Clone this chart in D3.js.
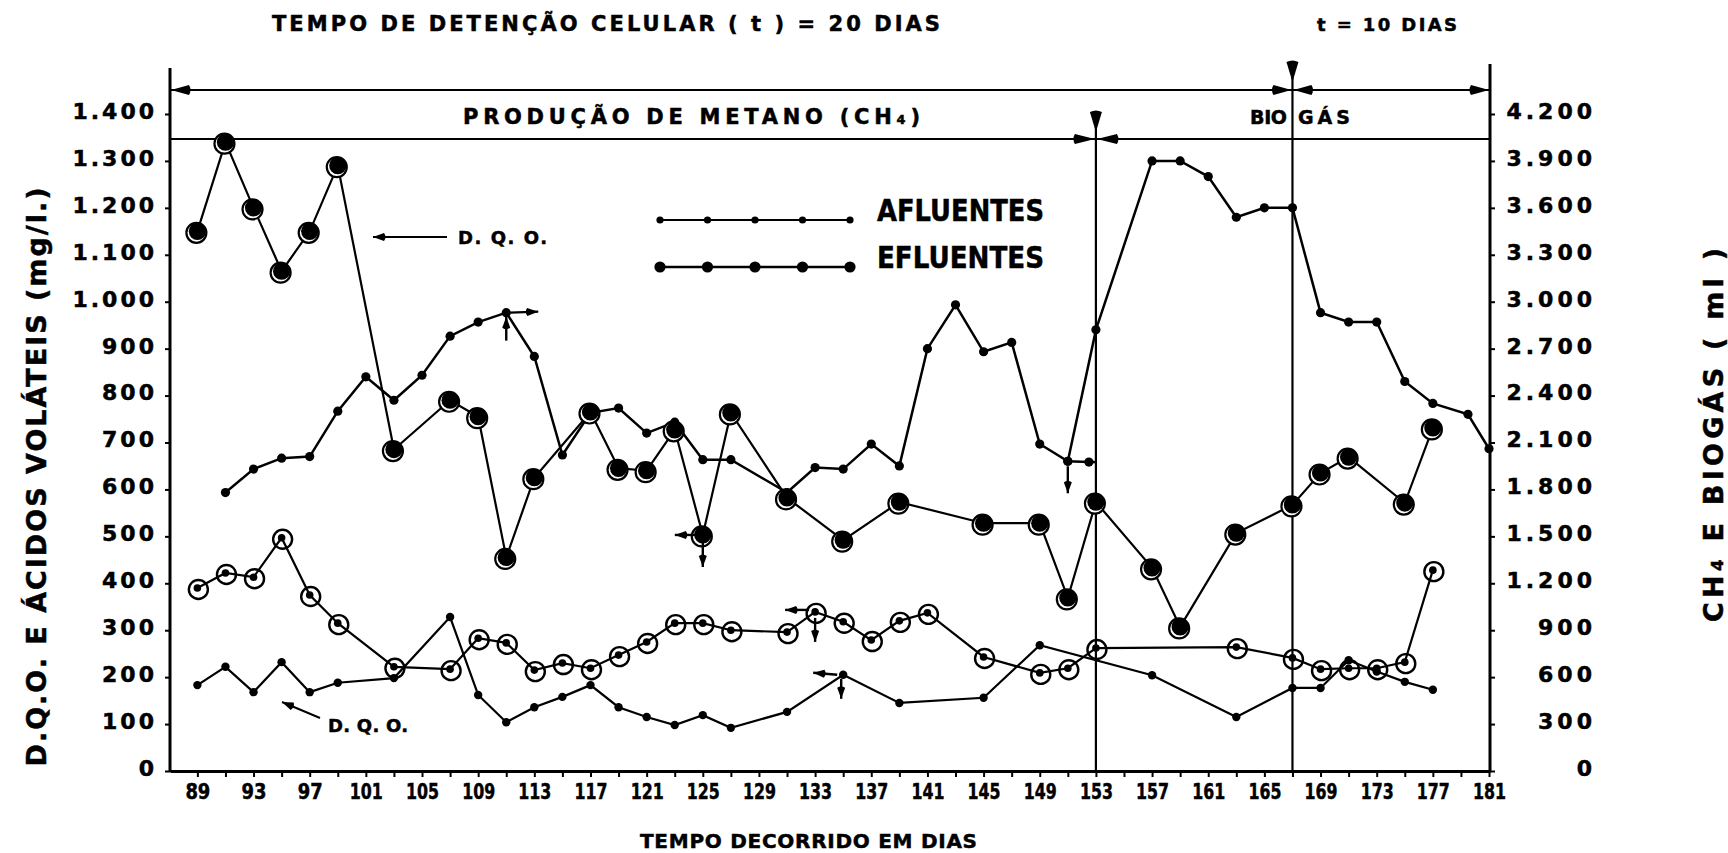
<!DOCTYPE html>
<html>
<head>
<meta charset="utf-8">
<script src="https://cdn.jsdelivr.net/npm/d3@7"></script>
<style>
  html, body { margin: 0; padding: 0; background: #fff; }
  svg { display: block; }
  text { font-family: "DejaVu Sans", sans-serif; font-weight: bold; fill: #000; stroke: #000; stroke-width: 0.5px; }
</style>
</head>
<body>
<svg id="chart" width="1728" height="853"></svg>
<script>
// ---- Data -------------------------------------------------------------
// D.Q.O., upper trace (ringed solid markers), mg/l
const dqoDays   = [89, 91, 93, 95, 97, 99, 103, 107, 109, 111, 113, 117, 119, 121, 123, 125, 127, 131, 135, 139, 145, 149, 151, 153, 157, 159, 163, 167, 169, 171, 175, 177];
const dqoValues = [1150, 1340, 1200, 1065, 1150, 1290, 685, 790, 755, 455, 625, 765, 645, 640, 727, 503, 763, 582, 492, 573, 528, 528, 369, 573, 433, 307, 507, 567, 635, 669, 571, 731];

// Ácidos voláteis (open ring markers), mg/l
const acidDays   = [89, 91, 93, 95, 97, 99, 103, 107, 109, 111, 113, 115, 117, 119, 121, 123, 125, 127, 131, 133, 135, 137, 139, 141, 145, 149, 151, 153, 163, 167, 169, 171, 173, 175, 177];
const acidValues = [390, 422, 413, 497, 375, 315, 222, 217, 283, 273, 215, 230, 219, 247, 275, 315, 315, 300, 296, 339, 318, 279, 320, 337, 243, 209, 219, 262, 264, 241, 217, 219, 219, 232, 428];

// D.Q.O., lower trace (small dots), mg/l
const dqoLowDays   = [89, 91, 93, 95, 97, 99, 103, 107, 109, 111, 113, 115, 117, 119, 121, 123, 125, 127, 131, 135, 139, 145, 149, 157, 163, 167, 169, 171, 173, 175, 177];
const dqoLowValues = [183, 222, 168, 232, 168, 188, 198, 328, 162, 104, 136, 158, 183, 136, 115, 98, 119, 92, 126, 205, 145, 156, 268, 204, 115, 177, 177, 236, 212, 190, 173];

// Methane (CH4) production, ml (right axis)
const methaneDays   = [91, 93, 95, 97, 99, 101, 103, 105, 107, 109, 111, 113, 115, 117, 119, 121, 123, 125, 127, 131, 133, 135, 137, 139, 141, 143, 145, 147, 149, 151, 152.5];
const methaneValues = [1780, 1930, 2000, 2010, 2300, 2520, 2370, 2530, 2780, 2870, 2930, 2650, 2020, 2290, 2320, 2160, 2230, 1990, 1990, 1780, 1940, 1930, 2090, 1950, 2700, 2980, 2680, 2740, 2090, 1980, 1975];

// Biogas, ml (right axis)
const biogasDays   = [151, 153, 157, 159, 161, 163, 165, 167, 169, 171, 173, 175, 177, 179.5, 181];
const biogasValues = [1980, 2820, 3900, 3900, 3800, 3540, 3600, 3600, 2930, 2870, 2870, 2490, 2350, 2280, 2060];

// Axis ticks and labels
const leftTicks  = d3.range(0, 1401, 100);
const rightTicks = d3.range(0, 4201, 300);
const dayTicks   = d3.range(89, 182, 2);
const dayLabels  = d3.range(89, 182, 4);

// Phase boundaries (days): start of biogas, change of retention time
const phaseBreaks = [153, 167];

// ---- Scales -----------------------------------------------------------
const svg = d3.select("#chart");
const x  = d3.scaleLinear().domain([87.05, 181.07]).range([170, 1490]);
const yL = d3.scaleLinear().domain([0, 1400]).range([771, 114]);
const yR = d3.scaleLinear().domain([0, 4200]).range([771, 114]);

const fmt = v => v >= 1000 ? `${Math.floor(v / 1000)}.${String(v % 1000).padStart(3, "0")}` : `${v}`;
const zip = (a, b) => a.map((d, i) => [d, b[i]]);

const dqo     = zip(dqoDays, dqoValues);
const acid    = zip(acidDays, acidValues);
const dqoLow  = zip(dqoLowDays, dqoLowValues);
const methane = zip(methaneDays, methaneValues);
const biogas  = zip(biogasDays, biogasValues);

// ---- helpers ----------------------------------------------------------
function head(g, tx, ty, angle, len = 14, half = 5) {
  // filled arrowhead with its tip at (tx, ty), pointing along `angle` (radians)
  const bx = tx - Math.cos(angle) * len, by = ty - Math.sin(angle) * len;
  const nx = -Math.sin(angle) * half, ny = Math.cos(angle) * half;
  g.append("path")
    .attr("d", `M${tx},${ty}L${bx + nx},${by + ny}Q${bx - Math.cos(angle) * 3},${by - Math.sin(angle) * 3} ${bx - nx},${by - ny}Z`)
    .attr("fill", "#000");
}
function arrow(g, x1, y1, x2, y2, w = 2.4, len = 11, half = 4) {
  g.append("line").attr("x1", x1).attr("y1", y1).attr("x2", x2).attr("y2", y2)
    .attr("stroke", "#000").attr("stroke-width", w);
  head(g, x2, y2, Math.atan2(y2 - y1, x2 - x1), len, half);
}

// ---- Frame and phase bands -------------------------------------------
const frame = svg.append("g");
const line = (x1, y1, x2, y2, w) => frame.append("line")
  .attr("x1", x1).attr("y1", y1).attr("x2", x2).attr("y2", y2)
  .attr("stroke", "#000").attr("stroke-width", w);

line(170, 68, 170, 772, 3);        // left axis
line(1490, 64, 1490, 772, 3);      // right axis
line(170, 90, 1490, 90, 2);        // retention-time band
line(170, 139, 1490, 139, 2);      // production band
const xb1 = x(phaseBreaks[0]), xb2 = x(phaseBreaks[1]);
line(xb1, 114, xb1, 771, 2.2);
line(xb2, 64, xb2, 771, 2.2);

// dimension arrows on the bands
head(frame, 171, 90, Math.PI, 18, 5);
head(frame, xb2 - 1, 90, 0, 18, 5);
head(frame, xb2 + 1, 90, Math.PI, 18, 5);
head(frame, 1489, 90, 0, 18, 5);
head(frame, xb1 - 1, 139, 0, 20, 5);
head(frame, xb1 + 1, 139, Math.PI, 20, 5);
// drop markers at the top of the phase lines
head(frame, xb1, 132, Math.PI / 2, 20, 6);
head(frame, xb2, 82, Math.PI / 2, 20, 6);

// ---- Axes -------------------------------------------------------------
const gx = svg.append("g").attr("transform", "translate(0,771)")
  .call(d3.axisBottom(x).tickValues(dayTicks).tickSize(6).tickSizeOuter(0).tickPadding(7)
    .tickFormat(d => dayLabels.includes(d) ? d : ""));
gx.select(".domain").attr("stroke-width", 3.2);
gx.selectAll(".tick line").attr("stroke-width", 2);
gx.selectAll(".tick text")
  .style("font-size", "21px")
  .attr("textLength", function () { return this.textContent.length === 3 ? 33 : 25; })
  .attr("lengthAdjust", "spacingAndGlyphs");

const gl = svg.append("g").attr("transform", "translate(170,0)")
  .call(d3.axisLeft(yL).tickValues(leftTicks).tickSize(5).tickPadding(8).tickFormat(fmt));
gl.select(".domain").remove();
gl.selectAll(".tick line").attr("stroke-width", 2);
gl.selectAll(".tick text").style("font-size", "22px").style("letter-spacing", "3px").attr("dy", "0.2em");

const gr = svg.append("g").attr("transform", "translate(1490,0)")
  .call(d3.axisRight(yR).tickValues(rightTicks).tickSize(5).tickFormat(fmt));
gr.select(".domain").remove();
gr.selectAll(".tick line").attr("stroke-width", 2);
gr.selectAll(".tick text").style("font-size", "22px").style("letter-spacing", "4px")
  .attr("text-anchor", "end").attr("x", 106).attr("dy", "0.2em");

svg.selectAll(".tick text").attr("fill", "#000");
svg.selectAll(".tick line, .domain").attr("stroke", "#000");

// ---- Titles and labels ------------------------------------------------
const label = (txt, px, py, size, len, anchor = "start", rot = 0) => {
  const t = svg.append("text")
    .attr("transform", `translate(${px},${py}) rotate(${rot})`)
    .attr("text-anchor", anchor)
    .style("font-size", size + "px")
    .text(txt);
  if (len) t.attr("textLength", len).attr("lengthAdjust", "spacing");
  return t;
};
label("TEMPO  DE  DETENÇÃO  CELULAR  ( t )  =  20  DIAS", 272, 31, 21, 668);
label("t  =  10 DIAS", 1317, 31, 18, 140);
label("PRODUÇÃO   DE   METANO  (CH₄)", 463, 124, 21, 457);
label("BIO", 1250, 124, 19, 37);
label("GÁS", 1298, 124, 19, 52);
label("TEMPO  DECORRIDO  EM  DIAS", 640, 848, 20, 337);
label("D.Q.O.  E  ÁCIDOS  VOLÁTEIS  (mg/l.)", 46, 477, 27, 579, "middle", -90);
label("CH₄  E  BIOGÁS  ( ml )", 1723, 435, 27, 374, "middle", -90);

// pointers to the D.Q.O. traces
label("D. Q. O.", 458, 244, 18, 89);
arrow(svg, 447, 237, 373, 237, 2);
label("D. Q. O.", 328, 732, 18, 80);
arrow(svg, 320, 718, 282, 702, 2);

// ---- Legend -----------------------------------------------------------
const legend = svg.append("g");
const legendItems = [
  { name: "AFLUENTES", ly: 220, r: 3.6, w: 2 },
  { name: "EFLUENTES", ly: 267, r: 5.6, w: 2.4 }
];
legendItems.forEach(it => {
  legend.append("line").attr("x1", 660).attr("x2", 850).attr("y1", it.ly).attr("y2", it.ly)
    .attr("stroke", "#000").attr("stroke-width", it.w);
  legend.selectAll(null).data(d3.range(5)).join("circle")
    .attr("cx", i => 660 + i * 47.5).attr("cy", it.ly).attr("r", it.r).attr("fill", "#000");
  legend.append("text").attr("x", 877).attr("y", it.ly + 1)
    .attr("textLength", 167).attr("lengthAdjust", "spacingAndGlyphs")
    .style("font-size", "30px").text(it.name);
});

// ---- Series -----------------------------------------------------------
const plot = svg.append("g");
const pathL = d3.line().x(d => x(d[0])).y(d => yL(d[1]));
const pathR = d3.line().x(d => x(d[0])).y(d => yR(d[1]));

plot.append("path").datum(dqoLow).attr("d", pathL).attr("fill", "none").attr("stroke", "#000").attr("stroke-width", 2.2);
plot.append("path").datum(acid).attr("d", pathL).attr("fill", "none").attr("stroke", "#000").attr("stroke-width", 2.2);
plot.append("path").datum(dqo).attr("d", pathL).attr("fill", "none").attr("stroke", "#000").attr("stroke-width", 2.2);
plot.append("path").datum(methane).attr("d", pathR).attr("fill", "none").attr("stroke", "#000").attr("stroke-width", 2.5);
plot.append("path").datum(biogas).attr("d", pathR).attr("fill", "none").attr("stroke", "#000").attr("stroke-width", 2.5);
// methane trace runs on to the phase line
plot.append("line")
  .attr("x1", x(methane[methane.length - 1][0])).attr("y1", yR(methane[methane.length - 1][1]))
  .attr("x2", xb1).attr("y2", yR(methane[methane.length - 1][1]))
  .attr("stroke", "#000").attr("stroke-width", 2.5);

// small dots
plot.selectAll(null).data(dqoLow).join("circle")
  .attr("cx", d => x(d[0])).attr("cy", d => yL(d[1])).attr("r", 4.2).attr("fill", "#000");
plot.selectAll(null).data(methane.concat(biogas)).join("circle")
  .attr("cx", d => x(d[0])).attr("cy", d => yR(d[1])).attr("r", 4.6).attr("fill", "#000");

// open rings with a dot
const acidG = plot.selectAll(null).data(acid).join("g")
  .attr("transform", d => `translate(${x(d[0])},${yL(d[1])})`);
acidG.append("circle").attr("cx", 1).attr("cy", 1.5).attr("r", 9.5)
  .attr("fill", "none").attr("stroke", "#000").attr("stroke-width", 2.4);
acidG.append("circle").attr("r", 3.8).attr("fill", "#000");

// solid markers with offset ring
const dqoG = plot.selectAll(null).data(dqo).join("g")
  .attr("transform", d => `translate(${x(d[0])},${yL(d[1])})`);
dqoG.append("circle").attr("cx", -1).attr("cy", 1.5).attr("r", 10)
  .attr("fill", "#fff").attr("stroke", "#000").attr("stroke-width", 2.2);
dqoG.append("circle").attr("r", 8.6).attr("fill", "#000");

// ---- Event arrows on the traces ---------------------------------------
const at = (series, day, scale) => {
  const p = series.find(d => d[0] === day);
  return [x(p[0]), scale(p[1])];
};
const ann = svg.append("g");
let p;
p = at(methane, 111, yR);
arrow(ann, p[0] + 4, p[1], p[0] + 32, p[1] - 1);
arrow(ann, p[0], p[1] + 28, p[0], p[1] + 4);
p = at(dqo, 125, yL);
arrow(ann, p[0] - 6, p[1], p[0] - 28, p[1]);
arrow(ann, p[0], p[1] + 8, p[0], p[1] + 32);
p = at(acid, 133, yL);
arrow(ann, p[0] - 6, p[1] - 2, p[0] - 30, p[1] - 2);
arrow(ann, p[0], p[1] + 6, p[0], p[1] + 30);
p = at(dqoLow, 135, yL);
arrow(ann, p[0] - 6, p[1], p[0] - 30, p[1] - 2);
arrow(ann, p[0] - 2, p[1] + 4, p[0] - 2, p[1] + 24);
p = at(methane, 151, yR);
arrow(ann, p[0], p[1] + 5, p[0], p[1] + 32);
</script>
</body>
</html>
